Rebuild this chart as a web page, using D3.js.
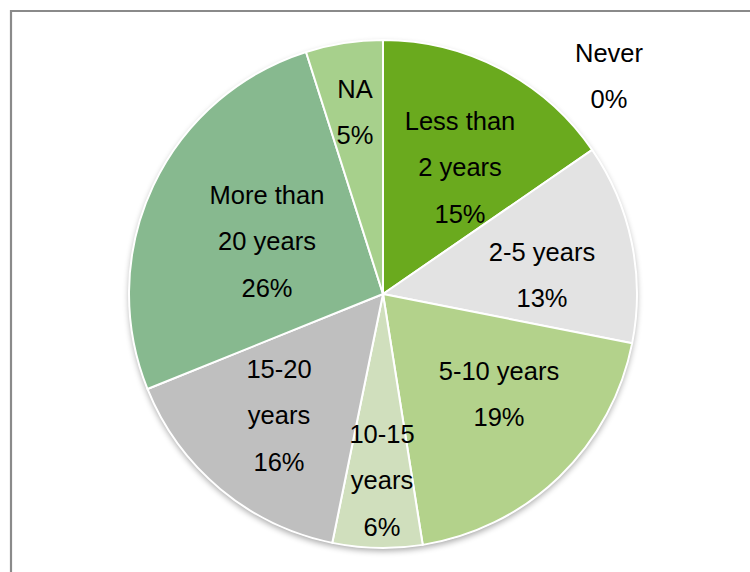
<!DOCTYPE html>
<html>
<head>
<meta charset="utf-8">
<script src="https://cdn.jsdelivr.net/npm/d3@7/dist/d3.min.js"></script>
<style>
  html, body { margin: 0; padding: 0; background: #fff; }
  svg { display: block; }
</style>
</head>
<body>
<svg id="chart" width="750" height="572"></svg>
<script>
// Years of experience: share of respondents per band (percent)
const categories = ["Never", "Less than 2 years", "2-5 years", "5-10 years", "10-15 years", "15-20 years", "More than 20 years", "NA"];
const values = [0, 15.4, 12.7, 19.4, 5.7, 15.7, 26.2, 4.9];
const colors = ["#6aaa1e", "#6aaa1e", "#e3e3e3", "#b3d28b", "#d0dfbd", "#bfbfbf", "#87b98f", "#a7d08c"];
// Label lines for each slice (the percentage is appended from the data)
const labelLines = [["Never"], ["Less than", "2 years"], ["2-5 years"], ["5-10 years"], ["10-15", "years"], ["15-20", "years"], ["More than", "20 years"], ["NA"]];
// Label anchor (first line) in pie-centred coordinates
const labelPos = [[226, -241], [77, -173], [159, -42], [116, 77], [-1, 140], [-104, 75], [-116, -99], [-28, -205]];

const svg = d3.select("#chart");
const cx = 383, cy = 294, r = 254;
const lineGap = 46.5;

// Frame
svg.append("path")
  .attr("d", "M11,572 V11 H750")
  .attr("fill", "none")
  .attr("stroke", "#8a8a8a")
  .attr("stroke-width", 2.2);

const defs = svg.append("defs");
const shadow = defs.append("filter").attr("id", "shadow")
  .attr("x", "-10%").attr("y", "-10%").attr("width", "120%").attr("height", "125%");
shadow.append("feGaussianBlur").attr("in", "SourceAlpha").attr("stdDeviation", 3);
shadow.append("feOffset").attr("dx", 0).attr("dy", 3).attr("result", "blur");
shadow.append("feComponentTransfer").append("feFuncA").attr("type", "linear").attr("slope", 0.35);
const merge = shadow.append("feMerge");
merge.append("feMergeNode");
merge.append("feMergeNode").attr("in", "SourceGraphic");

const data = categories.map((c, i) => ({ name: c, value: values[i], i }));
const pie = d3.pie().value(d => d.value).sort(null);
const arc = d3.arc().innerRadius(0).outerRadius(r);

const g = svg.append("g").attr("transform", `translate(${cx},${cy})`);

g.append("circle").attr("r", r).attr("fill", "#fff").attr("filter", "url(#shadow)");

g.selectAll("path.slice")
  .data(pie(data))
  .join("path")
  .attr("class", "slice")
  .attr("d", arc)
  .attr("fill", d => colors[d.data.i])
  .attr("stroke", d => d.data.value > 0 ? "#fff" : "none")
  .attr("stroke-width", 2)
  .attr("stroke-linejoin", "round");

const fmt = v => Math.round(v) + "%";

const labels = g.selectAll("text.lbl")
  .data(data)
  .join("text")
  .attr("class", "lbl")
  .attr("font-family", "Liberation Sans, Arial, sans-serif")
  .attr("font-size", 25.5)
  .attr("fill", "#000")
  .attr("text-anchor", "middle");

labels.each(function(d) {
  const lines = labelLines[d.i].concat([fmt(d.value)]);
  const [x, y] = labelPos[d.i];
  d3.select(this).selectAll("tspan")
    .data(lines)
    .join("tspan")
    .attr("x", x)
    .attr("y", (t, k) => y + k * lineGap)
    .attr("dy", "0.35em")
    .text(t => t);
});
</script>
</body>
</html>
